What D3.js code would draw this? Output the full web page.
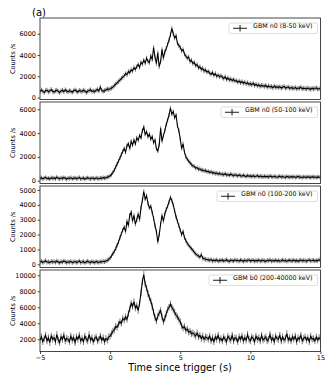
<!DOCTYPE html>
<html>
<head>
<meta charset="utf-8">
<script src="https://cdn.jsdelivr.net/npm/d3@7"></script>
<style>
  body { margin: 0; background: #fff; }
  svg { display: block; font-family: "DejaVu Sans", sans-serif; }
</style>
</head>
<body>
<svg width="332" height="380"></svg>
<script>
// light curves, 0.1 s bins starting at t = -5 s
const tStart = -5;
const binWidth = 0.1;

const labels = ["GBM n0 (8-50 keV)", "GBM n0 (50-100 keV)", "GBM n0 (100-200 keV)", "GBM b0 (200-40000 keV)"];

const n0Low = [
  560, 720, 610, 480, 650, 700, 540, 610, 760, 590,
  520, 640, 700, 580, 470, 620, 690, 560, 730, 610,
  540, 660, 590, 500, 640, 720, 600, 530, 680, 610,
  570, 700, 620, 480, 590, 660, 740, 580, 630, 550,
  690, 760, 620, 980, 700, 580, 650, 720, 810, 760,
  820, 900, 980, 1150, 1250, 1400, 1500, 1650, 1800, 1900,
  2050, 2250, 2150, 2450, 2350, 2600, 2500, 2800, 2650, 2900,
  3100, 2850, 3300, 3150, 3500, 3250, 3700, 3400, 3300, 3900,
  3600, 4700, 3800, 3200, 4200, 2900, 3400, 4500, 3700, 4300,
  4600, 5000, 5400, 5900, 6500, 6000, 5600, 5800, 5100, 4900,
  4700, 4400, 4500, 4100, 3900, 3700, 3800, 3400, 3500, 3200,
  3300, 3000, 3100, 2800, 2900, 2650, 2750, 2500, 2600, 2400,
  2450, 2300, 2200, 2350, 2100, 2250, 2000, 2100, 1950, 2050,
  1900, 1800, 1950, 1700, 1850, 1650, 1750, 1600, 1700, 1550,
  1600, 1450, 1550, 1400, 1500, 1350, 1450, 1300, 1400, 1250,
  1300, 1200, 1350, 1150, 1250, 1100, 1200, 1050, 1150, 1100,
  1050, 1150, 980, 1100, 1000, 1050, 920, 1080, 960, 1000,
  950, 1020, 900, 980, 1050, 890, 940, 1000, 860, 930,
  900, 860, 950, 820, 900, 870, 980, 830, 880, 850,
  820, 900, 840, 780, 880, 810, 860, 920, 790, 850, 810
];

const n0Mid = [
  180, 250, 150, 220, 280, 170, 210, 140, 260, 190,
  230, 160, 300, 200, 150, 240, 180, 270, 210, 130,
  220, 190, 260, 150, 210, 240, 170, 200, 280, 160,
  190, 230, 140, 210, 250, 180, 160, 220, 200, 150,
  240, 190, 170, 230, 200, 260, 220, 250, 300, 330,
  420, 520, 700, 900, 1150, 1400, 1650, 1900, 2200, 2450,
  2700, 2400, 2950, 3100, 2700, 3300, 3000, 3400, 3100, 3600,
  3400, 3800, 3600, 4200, 4500, 3900, 4100, 3700, 3900, 3500,
  3700, 3200, 3400, 2700, 2500, 3000, 4400, 3300, 3800, 4200,
  4700, 5100, 5500, 6100, 5600, 5800, 5300, 5500, 4600, 4200,
  3500, 2700, 3100, 2400, 2000, 1800, 1650, 1500, 1350, 1250,
  1200, 1050, 1100, 950, 1000, 880, 900, 820, 860, 760,
  780, 700, 740, 650, 680, 600, 640, 560, 620, 540,
  560, 500, 600, 470, 520, 440, 560, 480, 420, 500,
  460, 400, 480, 420, 380, 460, 400, 350, 440, 380,
  400, 350, 420, 340, 380, 430, 330, 390, 360, 320,
  380, 330, 360, 300, 400, 340, 310, 370, 330, 290,
  340, 380, 300, 350, 310, 280, 360, 320, 290, 340,
  300, 350, 270, 320, 360, 290, 310, 260, 330, 300,
  280, 330, 300, 260, 340, 290, 310, 270, 320, 300, 290
];

const n0High = [
  150, 210, 120, 180, 240, 140, 170, 110, 200, 160,
  190, 130, 220, 160, 100, 180, 150, 230, 170, 120,
  170, 140, 200, 110, 160, 190, 130, 150, 230, 120,
  150, 190, 100, 170, 210, 140, 120, 180, 160, 110,
  190, 150, 130, 180, 160, 200, 170, 220, 260, 330,
  430, 560, 720, 880, 1050, 1300, 1500, 1800, 2050, 2300,
  2500, 2200, 2900, 2600, 3300, 3500, 2900, 3300, 2700, 3000,
  3400, 3000, 3800, 4300, 4900, 4400, 4600, 4100, 3800, 3900,
  3500, 3100, 2600, 2200, 1500, 2000, 2700, 3300, 2900, 3400,
  3700, 3900, 4200, 4500, 4300, 4000, 3600, 3200, 2900, 2600,
  2300, 2000, 2200, 1800, 1600, 1400, 1300, 1150, 1050, 950,
  800, 700, 620, 560, 480, 650, 420, 380, 340, 320,
  300, 260, 330, 220, 280, 240, 310, 200, 270, 250,
  290, 220, 260, 310, 230, 200, 280, 250, 220, 300,
  240, 270, 210, 290, 250, 190, 280, 230, 260, 300,
  220, 250, 280, 200, 260, 230, 290, 210, 250, 270,
  230, 200, 270, 240, 290, 210, 250, 230, 280, 220,
  260, 210, 240, 290, 230, 270, 200, 250, 280, 230,
  240, 280, 220, 260, 200, 250, 290, 230, 270, 240,
  210, 260, 300, 230, 250, 280, 220, 260, 240, 310, 250
];

const b0 = [
  1900, 2300, 1700, 2100, 2500, 1800, 2200, 1600, 2400, 2000,
  2200, 1700, 2600, 1900, 1600, 2300, 2000, 2500, 1800, 2100,
  2000, 1700, 2400, 1900, 2200, 1600, 2300, 2000, 2500, 1800,
  2100, 1700, 2400, 2000, 1800, 2600, 1900, 2200, 1700, 2100,
  2300, 1800, 2000, 2400, 1900, 2200, 1700, 2100, 1900, 2300,
  2400, 2700, 3000, 3200, 3600, 3500, 3900, 4200, 4000, 4600,
  4400, 4800, 4500, 5200, 5800, 6500, 6100, 6700, 5900, 6200,
  5600, 6500, 7800, 9200, 10100, 8900, 8400, 7700, 7200, 6800,
  6100, 5400, 4700, 4300, 4900, 5300, 5600, 4800, 4200, 4600,
  5200, 5700, 6000, 6400, 6000, 5700, 5400, 5000, 4800, 4500,
  4200, 3700, 3400, 3600, 3100, 3300, 2900, 3000, 2700, 2800,
  2600, 2400, 2800, 2300, 2500, 2100, 2400, 2000, 2300, 2200,
  2000, 2400, 1800, 2200, 1700, 2300, 2000, 2500, 1900, 2100,
  1800, 2300, 2000, 1700, 2400, 2100, 1900, 2500, 1800, 2200,
  2100, 1700, 2300, 2000, 2400, 1800, 2200, 1900, 2600, 2000,
  1800, 2300, 2100, 1700, 2400, 2000, 2200, 1800, 2500, 1900,
  2100, 2300, 1800, 2000, 2600, 1900, 2200, 1700, 2400, 2100,
  2000, 2500, 1800, 2300, 1900, 2100, 2700, 1900, 2200, 1800,
  2300, 2000, 2400, 1700, 2200, 2000, 2500, 1800, 2100, 2300,
  1900, 2200, 1700, 2400, 2000, 2100, 1800, 2300, 1900, 2200, 2000
];

const binErrors = [220, 180, 150, 420];
const yDomains = [[-180, 7475], [-235, 6610], [-215, 5270], [475, 10660]];
const yTicks = [[0, 2000, 4000, 6000], [0, 2000, 4000, 6000], [0, 1000, 2000, 3000, 4000, 5000], [2000, 4000, 6000, 8000, 10000]];
const xTicks = [-5, 0, 5, 10, 15];

const series = [n0Low, n0Mid, n0High, b0];

const svg = d3.select("svg");
const left = 40, right = 320.5;
const top0 = 18, panelH = 81.5, gap = 2.5;

const x = d3.scaleLinear().domain([-5, 15]).range([left, right]);

series.forEach(function(vals, k) {
  const y0 = top0 + k * (panelH + gap);
  const y = d3.scaleLinear().domain(yDomains[k]).range([y0 + panelH, y0]);
  const pts = vals.map(function(v, i) { return { t: tStart + i * binWidth, v: v }; });

  const g = svg.append("g");
  g.append("clipPath").attr("id", "clip" + k)
    .append("rect").attr("x", left).attr("y", y0).attr("width", right - left).attr("height", panelH);

  const plot = g.append("g").attr("clip-path", "url(#clip" + k + ")");

  // error bars
  plot.selectAll("line.err").data(pts).join("line")
    .attr("class", "err")
    .attr("x1", d => x(d.t)).attr("x2", d => x(d.t))
    .attr("y1", d => y(d.v - binErrors[k])).attr("y2", d => y(d.v + binErrors[k]))
    .attr("stroke", "#6e6e6e").attr("stroke-width", 0.9);

  plot.append("path").datum(pts)
    .attr("d", d3.line().x(d => x(d.t)).y(d => y(d.v)))
    .attr("fill", "none").attr("stroke", "#000").attr("stroke-width", 1.1);

  // y axis
  const ax = g.append("g").attr("transform", "translate(" + left + ",0)")
    .call(d3.axisLeft(y).tickValues(yTicks[k]).tickSize(2.5).tickPadding(1.5).tickFormat(d3.format("d")));
  ax.select(".domain").remove();
  ax.selectAll("text").attr("font-size", 6.5).attr("font-family", "DejaVu Sans").attr("fill", "#000");
  ax.selectAll("line").attr("stroke", "#000").attr("stroke-width", 0.7);

  // frame
  g.append("rect").attr("x", left).attr("y", y0).attr("width", right - left).attr("height", panelH)
    .attr("fill", "none").attr("stroke", "#333").attr("stroke-width", 0.9);

  g.append("text")
    .attr("transform", "translate(15," + (y0 + panelH / 2) + ") rotate(-90)")
    .attr("text-anchor", "middle").attr("font-size", 6.5).text("Counts /s");

  // legend
  const lg = g.append("g");
  const txt = lg.append("text").attr("font-size", 6.3).attr("fill", "#000").attr("y", y0 + 10.3).text(labels[k]);
  const tw = txt.node().getComputedTextLength();
  const boxW = tw + 29, boxX = right - 3 - boxW, boxY = y0 + 5;
  lg.insert("rect", "text").attr("x", boxX).attr("y", boxY).attr("width", boxW).attr("height", 10.5)
    .attr("rx", 1.5).attr("fill", "#fff").attr("fill-opacity", 0.8).attr("stroke", "#d0d0d0").attr("stroke-width", 0.7);
  txt.attr("x", boxX + 24);
  lg.append("line").attr("x1", boxX + 4).attr("x2", boxX + 18).attr("y1", boxY + 5.25).attr("y2", boxY + 5.25)
    .attr("stroke", "#000").attr("stroke-width", 0.9);
  lg.append("line").attr("x1", boxX + 11).attr("x2", boxX + 11).attr("y1", boxY + 2).attr("y2", boxY + 8.5)
    .attr("stroke", "#000").attr("stroke-width", 0.9);

  if (k === series.length - 1) {
    const xa = g.append("g").attr("transform", "translate(0," + (y0 + panelH) + ")")
      .call(d3.axisBottom(x).tickValues(xTicks).tickSize(2.5).tickPadding(1.5).tickFormat(d => d < 0 ? "\u2212" + Math.abs(d) : d));
    xa.select(".domain").remove();
    xa.selectAll("text").attr("font-size", 6.5).attr("font-family", "DejaVu Sans").attr("fill", "#000");
    xa.selectAll("line").attr("stroke", "#000").attr("stroke-width", 0.7);
  }
});

svg.append("text").attr("x", 180).attr("y", 371).attr("text-anchor", "middle")
  .attr("font-size", 9.7).text("Time since trigger (s)");

svg.append("text").attr("x", 32).attr("y", 15.5).attr("font-size", 10).text("(a)");
</script>
</body>
</html>
